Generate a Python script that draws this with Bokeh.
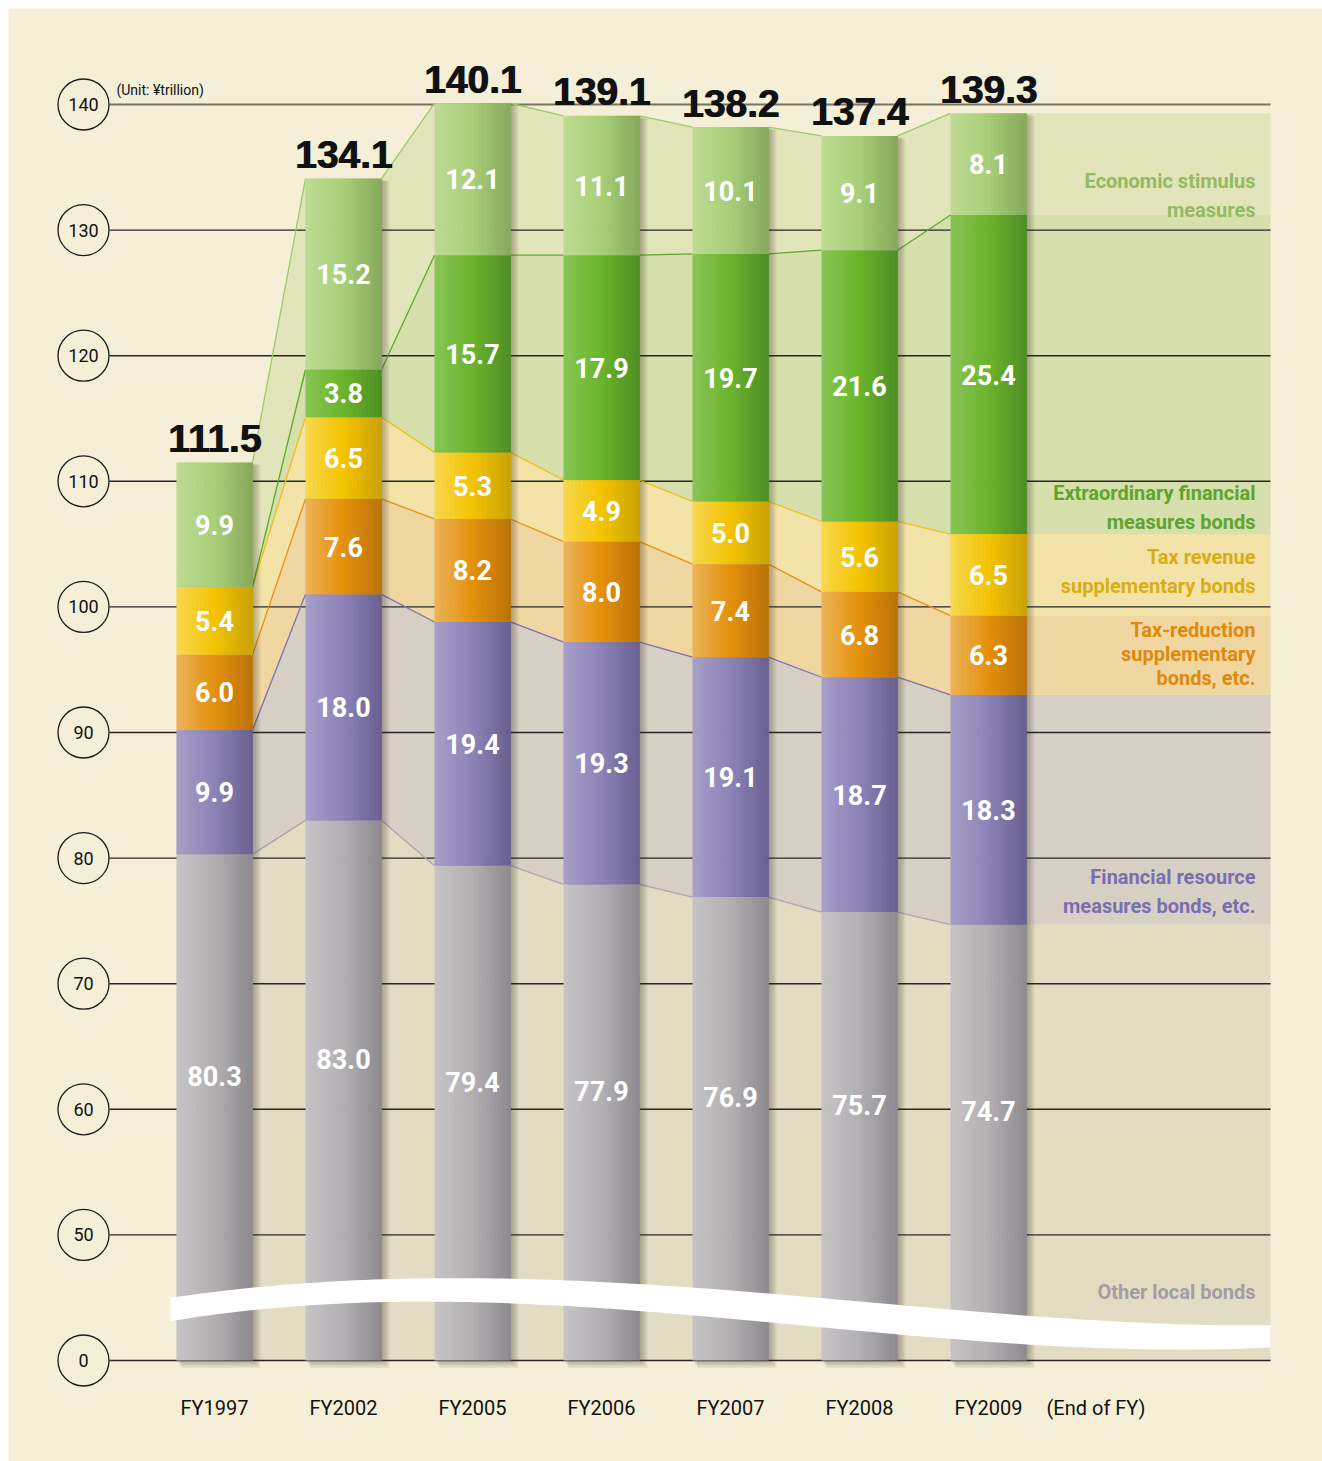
import numpy as np
from bokeh.plotting import figure
from bokeh.models import Range1d
from bokeh.embed import file_html
from bokeh.resources import INLINE
from bokeh.core.properties import value

# ---------------- data ----------------
years = ["FY1997", "FY2002", "FY2005", "FY2006", "FY2007", "FY2008", "FY2009"]
other_local = [80.3, 83.0, 79.4, 77.9, 76.9, 75.7, 74.7]
financial_resource = [9.9, 18.0, 19.4, 19.3, 19.1, 18.7, 18.3]
tax_reduction = [6.0, 7.6, 8.2, 8.0, 7.4, 6.8, 6.3]
tax_revenue = [5.4, 6.5, 5.3, 4.9, 5.0, 5.6, 6.5]
extraordinary = [0.0, 3.8, 15.7, 17.9, 19.7, 21.6, 25.4]
economic_stimulus = [9.9, 15.2, 12.1, 11.1, 10.1, 9.1, 8.1]
totals = [111.5, 134.1, 140.1, 139.1, 138.2, 137.4, 139.3]
series_names = [
    ["Other local bonds"],
    ["Financial resource", "measures bonds, etc."],
    ["Tax-reduction", "supplementary", "bonds, etc."],
    ["Tax revenue", "supplementary bonds"],
    ["Extraordinary financial", "measures bonds"],
    ["Economic stimulus", "measures"],
]
tick_values = [0, 50, 60, 70, 80, 90, 100, 110, 120, 130, 140]
tick_labels = [str(t) for t in tick_values]
unit_label = "(Unit: ¥trillion)"
end_label = "(End of FY)"

series_values = [other_local, financial_resource, tax_reduction,
                 tax_revenue, extraordinary, economic_stimulus]

# ---------------- styles / layout ----------------
PAGE_W, PAGE_H = 1322, 1461
MARGIN = 8
BG = "#F5EFD8"
BREAK = 40.0          # scale position of the broken axis (drawn as "0")
LABEL_FLOOR = 45.0    # visible bottom of bars above the break wave
PXX = 129.0           # pixels per category step
PXY = 12.56           # pixels per unit
BAR_PX = 76.0
hw = BAR_PX / PXX / 2.0
X_BAR0 = 214.0 - MARGIN   # frame px of first bar centre
Y_140 = 104.0 - MARGIN    # frame px of value 140


def fx(px):
    """page px -> data x"""
    return (px - MARGIN - X_BAR0) / PXX


def fy(py):
    """page px -> data y"""
    return 140.0 + (Y_140 - (py - MARGIN)) / PXY


def dxp(px):
    return px / PXX


def dyp(px):
    return px / PXY


grad_stops = [
    ["#C6C4C7", "#B3B0B4", "#8C8A8F"],
    ["#A79EC9", "#8C82B8", "#685F90"],
    ["#EDB458", "#E4900A", "#BB7206"],
    ["#F8D84E", "#F5C400", "#C9A103"],
    ["#88C655", "#6AB42A", "#4C8E24"],
    ["#BEDC93", "#A9CF79", "#86A85B"],
]
area_colors = ["#E2DCC3", "#D7D0C5", "#F0D6A0", "#F3E3A9", "#D7DFAC", "#E2E4BA"]
line_colors = ["#AAA5AD", "#7D73B0", "#E39218", "#EDBF1A", "#5BAA2C", "#9CCB6A"]
legend_colors = ["#A29EA2", "#7A6FAE", "#DD8A0E", "#D9AE12", "#5EA52E", "#94BA62"]
legend_lines_py = [[1291], [876, 905], [629, 653, 677], [556, 585], [492, 521], [180, 209]]

FONT = value("Roboto")


def hex2rgb(h):
    return np.array([int(h[i:i + 2], 16) for i in (1, 3, 5)], float)


def rgb2hex(c):
    return "#%02x%02x%02x" % tuple(int(round(v)) for v in c)


def grad(stops, t):
    a, b, c = [hex2rgb(s) for s in stops]
    if t < 0.5:
        return rgb2hex(a + (b - a) * (t / 0.5))
    return rgb2hex(b + (c - b) * ((t - 0.5) / 0.5))


n = len(years)
xs = np.arange(n, dtype=float)
cum = np.cumsum(np.array(series_values), axis=0)   # tops of each series
lowers = [np.full(n, BREAK)] + [cum[k - 1] for k in range(1, len(series_values))]
x_right = fx(1270)

p = figure(width=PAGE_W, height=PAGE_H, output_backend="svg", toolbar_location=None,
           x_range=Range1d(fx(MARGIN), fx(PAGE_W)),
           y_range=Range1d(fy(PAGE_H), fy(MARGIN)),
           min_border=0, min_border_left=MARGIN, min_border_top=MARGIN,
           min_border_right=0, min_border_bottom=0,
           x_axis_type=None, y_axis_type=None)
p.background_fill_color = BG
p.border_fill_color = "white"
p.outline_line_color = None
p.grid.visible = False

# ---- connecting areas between bars and right-hand band ----
for k in range(len(series_values)):
    up, lo = cum[k], lowers[k]
    px_, uy, ly = [], [], []
    for i in range(n):
        px_ += [xs[i] - hw, xs[i] + hw]
        uy += [up[i], up[i]]
        ly += [lo[i], lo[i]]
    px_.append(x_right)
    uy.append(up[-1])
    ly.append(lo[-1])
    p.patch(px_ + px_[::-1], uy + ly[::-1], fill_color=area_colors[k],
            line_color=None)

# ---- gridlines ----
tick_pos = [BREAK if t == 0 else float(t) for t in tick_values]
grid_cols = ["#77735F" if t == max(tick_values) else "#262626" for t in tick_values]
grid_w = [2.0 if t == max(tick_values) else 1.4 for t in tick_values]
p.segment(x0=[fx(109)] * len(tick_pos), x1=[x_right] * len(tick_pos),
          y0=tick_pos, y1=tick_pos, line_color=grid_cols, line_width=grid_w)

# ---- boundary lines between bars ----
for k in range(len(series_values)):
    up = cum[k]
    p.segment(x0=list(xs[:-1] + hw), x1=list(xs[1:] - hw),
              y0=list(up[:-1]), y1=list(up[1:]),
              line_color=line_colors[k], line_width=1.3)

# ---- bar shadows ----
tops = cum[-1]
for s in range(1, 6):
    p.quad(left=list(xs - hw + dxp(s)), right=list(xs + hw + dxp(1.6 * s)),
           top=list(tops - dyp(0.6 * s)), bottom=[BREAK - dyp(1.5 * s)] * n,
           fill_color="#3A3020", fill_alpha=0.07, line_color=None)

# ---- gradient bars ----
NS = 19
L, R, B, T, C = [], [], [], [], []
for k in range(len(series_values)):
    for i in range(n):
        if series_values[k][i] <= 0:
            continue
        for j in range(NS):
            t = (j + 0.5) / NS
            L.append(xs[i] - hw + 2 * hw * j / NS)
            R.append(xs[i] - hw + 2 * hw * (j + 1) / NS + dxp(0.4))
            B.append(lowers[k][i])
            T.append(cum[k][i])
            C.append(grad(grad_stops[k], t))
p.quad(left=L, right=R, bottom=B, top=T, fill_color=C, line_color=None)

# ---- segment value labels ----
lx, ly_, lt = [], [], []
for k in range(len(series_values)):
    for i in range(n):
        v = series_values[k][i]
        if v <= 0:
            continue
        lo = LABEL_FLOOR if k == 0 else lowers[k][i]
        lx.append(xs[i])
        ly_.append((lo + cum[k][i]) / 2.0)
        lt.append("%.1f" % v)
p.text(x=lx, y=ly_, text=lt, text_color="white", text_font=FONT,
       text_font_style="bold", text_font_size="27px", text_align="center",
       text_baseline="middle")

# ---- totals (drawn twice, 1px apart, for a heavier face) ----
for off in (0.0, 1.0):
    p.text(x=list(xs + dxp(off)), y=list(tops + dyp(24)),
           text=["%.1f" % t for t in totals],
           text_color="#111111", text_font=value("Liberation Sans"),
           text_font_style="bold", text_font_size="39px", text_align="center",
           text_baseline="middle")

# ---- break wave ----
wx_px = np.array([170, 300, 450, 600, 750, 900, 1000, 1100, 1200, 1270])
wt_px = np.array([1297, 1284, 1277, 1281, 1292, 1305, 1313, 1320, 1324, 1325])
wb_px = np.array([1320, 1307, 1301, 1306, 1320, 1336, 1343, 1346, 1348, 1348])
grid_x = np.linspace(wx_px[0], wx_px[-1], 120)
top_fit = np.polyval(np.polyfit(wx_px, wt_px, 4), grid_x)
bot_fit = np.polyval(np.polyfit(wx_px, wb_px, 4), grid_x)
wave_x = [fx(v) for v in grid_x]
wave_top = [fy(v) for v in top_fit]
wave_bot = [fy(v) for v in bot_fit]
p.patch(wave_x + wave_x[::-1], wave_top + wave_bot[::-1],
        fill_color="white", line_color=None)

# ---- y axis: circled ticks ----
cx = fx(83)
p.scatter(x=[cx] * len(tick_pos), y=tick_pos, marker="circle", size=51,
          fill_color=BG, line_color="#1a1a1a", line_width=1.3)
p.text(x=[cx] * len(tick_pos), y=tick_pos, text=tick_labels, text_color="#111111",
       text_font=FONT, text_font_size="18px", text_align="center",
       text_baseline="middle")
p.text(x=[fx(116)], y=[fy(89)], text=[unit_label], text_color="#111111",
       text_font=FONT, text_font_size="14px", text_align="left",
       text_baseline="middle")

# ---- x labels ----
p.text(x=list(xs), y=[fy(1407)] * n, text=years, text_color="#111111",
       text_font=FONT, text_font_size="20px", text_align="center",
       text_baseline="middle")
p.text(x=[fx(1046)], y=[fy(1407)], text=[end_label], text_color="#111111",
       text_font=FONT, text_font_size="20px", text_align="left",
       text_baseline="middle")

# ---- series names on the right ----
for k in range(len(series_values)):
    for line, py in zip(series_names[k], legend_lines_py[k]):
        p.text(x=[fx(1255)], y=[fy(py)], text=[line], text_color=legend_colors[k],
               text_font=FONT, text_font_style="bold", text_font_size="20px",
               text_align="right", text_baseline="middle")

open("out.html", "w").write(file_html(p, INLINE))
